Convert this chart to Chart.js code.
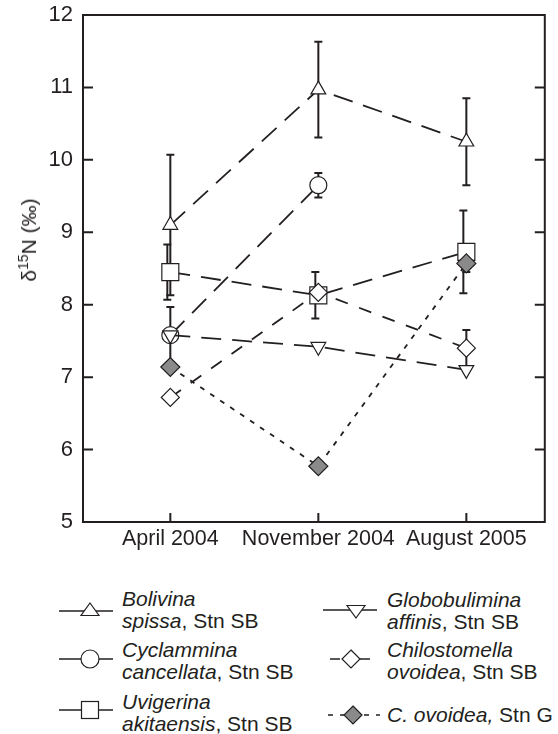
<!DOCTYPE html>
<html>
<head>
    <title>d15N of foraminifera</title>
    <style>
        body {margin: 0; background: #fff;}
        #wrap {position: relative; width: 558px; height: 734px; font-family: "Liberation Sans", Arial, sans-serif; color: #231f20;}
        #chart {position: absolute; left: 0; top: 0;}
        #ytitle {position: absolute; left: 29px; top: 240px; font-size: 21px; white-space: nowrap;
                 transform: translate(-50%, -50%) rotate(-90deg);}
        #ytitle sup {font-size: 14px; line-height: 0; vertical-align: 8px;}
        .sym {position: absolute;}
        .lab {position: absolute; font-size: 21px; line-height: 22px; white-space: nowrap;}
        .lab i {font-style: italic;}
    </style>
    <script src="https://cdn.jsdelivr.net/npm/chart.js"></script>
</head>
<body>
<div id="wrap">
    <canvas id="chart" width="558" height="560"></canvas>
    <div id="ytitle">δ<sup>15</sup>N (‰)</div>
    <div id="legend"></div>
</div>

<script>
    // sampling dates, drawn at positions 1..3 on the x axis
    var categories = ['April 2004', 'November 2004', 'August 2005'];
    var yTicks = [5, 6, 7, 8, 9, 10, 11, 12];

    // d15N means and error bar half-lengths
    var bolivina = [9.10, 10.97, 10.25];
    var bolivinaErr = [0.97, 0.66, 0.60];
    var cyclammina = [7.58, 9.65, null];
    var cyclamminaErr = [0.39, 0.17, null];
    var uvigerina = [8.45, 8.13, 8.73];
    var uvigerinaErr = [0.38, 0.32, 0.57];
    var globobulimina = [7.58, 7.42, 7.10];
    var globobuliminaErr = [0, 0, 0];
    var chilostomella = [6.72, 8.17, 7.40];
    var chilostomellaErr = [0, 0.04, 0.25];
    var ovoideaG = [7.14, 5.77, 8.57];
    var ovoideaGErr = [0, 0.03, 0.12];

    var INK = '#231f20';
    var GREY = '#8a8a8a';
    var LONG = [20, 11];

    function pts(vals) {
        return vals.map(function(v, i) { return {x: i + 1, y: v}; });
    }

    function series(label, vals, errs, style) {
        var ds = {
            label: label,
            data: pts(vals),
            errors: errs,
            borderColor: INK,
            borderWidth: 1.8,
            borderDash: LONG,
            pointBorderColor: INK,
            pointBackgroundColor: '#fff',
            pointBorderWidth: 1.2,
            pointRadius: 8.5,
            tension: 0,
            fill: false
        };
        return Object.assign(ds, style);
    }

    var datasets = [
        series('Chilostomella ovoidea, Stn SB', chilostomella, chilostomellaErr,
               {pointStyle: 'rectRot', pointRadius: 9, borderDash: [13, 12], order: 1}),
        series('C. ovoidea, Stn G', ovoideaG, ovoideaGErr,
               {pointStyle: 'rectRot', pointRadius: 9.5, pointBackgroundColor: GREY, borderDash: [5, 7], order: 0}),
        series('Globobulimina affinis, Stn SB', globobulimina, globobuliminaErr,
               {pointStyle: 'triangle', pointRotation: 180, order: 2}),
        series('Cyclammina cancellata, Stn SB', cyclammina, cyclamminaErr,
               {pointStyle: 'circle', order: 3}),
        series('Uvigerina akitaensis, Stn SB', uvigerina, uvigerinaErr,
               {pointStyle: 'rect', pointRadius: 12, errShift: -3, order: 4}),
        series('Bolivina spissa, Stn SB', bolivina, bolivinaErr,
               {pointStyle: 'triangle', order: 5})
    ];

    // error bars under the markers, then the frame with inward ticks
    var framePlugin = {
        id: 'frame',
        beforeDatasetsDraw: function(chart) {
            var ctx = chart.ctx, xs = chart.scales.x, ys = chart.scales.y;
            ctx.save();
            ctx.strokeStyle = INK;
            ctx.lineWidth = 2;
            chart.data.datasets.forEach(function(ds) {
                ds.errors.forEach(function(e, i) {
                    if (!e || ds.data[i].y == null) return;
                    var px = xs.getPixelForValue(ds.data[i].x) + (ds.errShift || 0);
                    var top = ys.getPixelForValue(ds.data[i].y + e);
                    var bot = ys.getPixelForValue(ds.data[i].y - e);
                    ctx.beginPath();
                    ctx.moveTo(px, top); ctx.lineTo(px, bot);
                    ctx.moveTo(px - 4, top); ctx.lineTo(px + 4, top);
                    ctx.moveTo(px - 4, bot); ctx.lineTo(px + 4, bot);
                    ctx.stroke();
                });
            });
            ctx.restore();
        },
        afterDraw: function(chart) {
            var ctx = chart.ctx, a = chart.chartArea, xs = chart.scales.x, ys = chart.scales.y;
            ctx.save();
            ctx.strokeStyle = INK;
            ctx.lineWidth = 2;
            ctx.strokeRect(a.left, a.top, a.right - a.left, a.bottom - a.top);
            ctx.beginPath();
            yTicks.forEach(function(t) {
                var py = ys.getPixelForValue(t);
                ctx.moveTo(a.left, py); ctx.lineTo(a.left + 10, py);
                ctx.moveTo(a.right, py); ctx.lineTo(a.right - 10, py);
            });
            categories.forEach(function(c, i) {
                var px = xs.getPixelForValue(i + 1);
                ctx.moveTo(px, a.bottom); ctx.lineTo(px, a.bottom - 9);
            });
            ctx.stroke();
            ctx.restore();
        }
    };

    Chart.defaults.font.family = '"Liberation Sans", Arial, sans-serif';
    Chart.defaults.font.size = 21;
    Chart.defaults.color = INK;

    var chart = new Chart(document.getElementById('chart'), {
        type: 'line',
        data: {datasets: datasets},
        options: {
            responsive: false,
            animation: false,
            layout: {padding: {top: 15, right: 2, left: 0, bottom: 0}},
            plugins: {legend: {display: false}, tooltip: {enabled: false}},
            scales: {
                x: {
                    type: 'linear',
                    min: 0.41,
                    max: 3.53,
                    grid: {display: false, drawTicks: false},
                    border: {display: false},
                    afterBuildTicks: function(scale) {
                        scale.ticks = categories.map(function(c, i) { return {value: i + 1}; });
                    },
                    afterFit: function(scale) {
                        scale.height = 38;
                        scale.paddingLeft = 0;
                        scale.paddingRight = 0;
                    },
                    ticks: {
                        autoSkip: false,
                        maxRotation: 0,
                        padding: 4,
                        font: {size: 21.5},
                        callback: function(v) { return categories[v - 1]; }
                    }
                },
                y: {
                    min: 5,
                    max: 12,
                    grid: {display: false, drawTicks: false},
                    border: {display: false},
                    afterBuildTicks: function(scale) {
                        scale.ticks = yTicks.map(function(t) { return {value: t}; });
                    },
                    afterFit: function(scale) {
                        scale.width = 83;
                        scale.paddingTop = 0;
                        scale.paddingBottom = 0;
                    },
                    ticks: {padding: 10, font: {size: 22}}
                }
            }
        },
        plugins: [framePlugin]
    });

    // legend: two columns, italic species names
    var legendItems = [
        {genus: 'Bolivina', rest: '<i>spissa</i>, Stn SB', sym: 'tri', left: 58, top: 588, symY: 611, col: 1},
        {genus: 'Cyclammina', rest: '<i>cancellata</i>, Stn SB', sym: 'circle', left: 58, top: 639, symY: 659, col: 1},
        {genus: 'Uvigerina', rest: '<i>akitaensis</i>, Stn SB', sym: 'square', left: 58, top: 691, symY: 710, col: 1},
        {genus: 'Globobulimina', rest: '<i>affinis</i>, Stn SB', sym: 'tridown', left: 322, top: 589, symY: 610, col: 2},
        {genus: 'Chilostomella', rest: '<i>ovoidea</i>, Stn SB', sym: 'diamond', left: 322, top: 639, symY: 659, col: 2},
        {genus: null, rest: '<i>C. ovoidea,</i> Stn G', sym: 'diamondG', left: 322, top: 704, symY: 715, col: 2}
    ];

    function symbolSvg(kind) {
        var s = 'stroke="' + INK + '"';
        var line = '<line x1="1" y1="12" x2="55" y2="12" ' + s + ' stroke-width="1.5"/>';
        var m = '';
        if (kind === 'tri') m = '<polygon points="32,4 41,16.5 23,16.5" fill="#fff" ' + s + ' stroke-width="1.2"/>';
        if (kind === 'circle') m = '<circle cx="32" cy="12" r="9" fill="#fff" ' + s + ' stroke-width="1.2"/>';
        if (kind === 'square') m = '<rect x="23.5" y="3.5" width="17" height="17" fill="#fff" ' + s + ' stroke-width="1.2"/>';
        if (kind === 'tridown') {
            m = '<polygon points="34,20 43,7.5 25,7.5" fill="#fff" ' + s + ' stroke-width="1.2"/>';
        }
        if (kind === 'diamond') {
            line = '<line x1="8" y1="12" x2="18" y2="12" ' + s + ' stroke-width="1.5"/>' +
                   '<line x1="38" y1="12" x2="48" y2="12" ' + s + ' stroke-width="1.5"/>';
            m = '<polygon points="29,3 38,12 29,21 20,12" fill="#fff" ' + s + ' stroke-width="1.2"/>';
        }
        if (kind === 'diamondG') {
            line = '<line x1="6" y1="12" x2="58" y2="12" ' + s + ' stroke-width="1.5" stroke-dasharray="5,7"/>';
            m = '<polygon points="31,3 40,12 31,21 22,12" fill="' + GREY + '" ' + s + ' stroke-width="1.2"/>';
        }
        return '<svg width="62" height="24" viewBox="0 0 62 24">' + line + m + '</svg>';
    }

    var legendHtml = '';
    legendItems.forEach(function(it) {
        legendHtml += '<div class="sym" style="left:' + it.left + 'px;top:' + (it.symY - 12) + 'px">' + symbolSvg(it.sym) + '</div>';
        var textLeft = it.col === 1 ? 122 : 387;
        var txt = it.genus ? '<i>' + it.genus + '</i><br>' + it.rest : it.rest;
        legendHtml += '<div class="lab" style="left:' + textLeft + 'px;top:' + it.top + 'px">' + txt + '</div>';
    });
    document.getElementById('legend').innerHTML = legendHtml;
</script>
</body>
</html>
